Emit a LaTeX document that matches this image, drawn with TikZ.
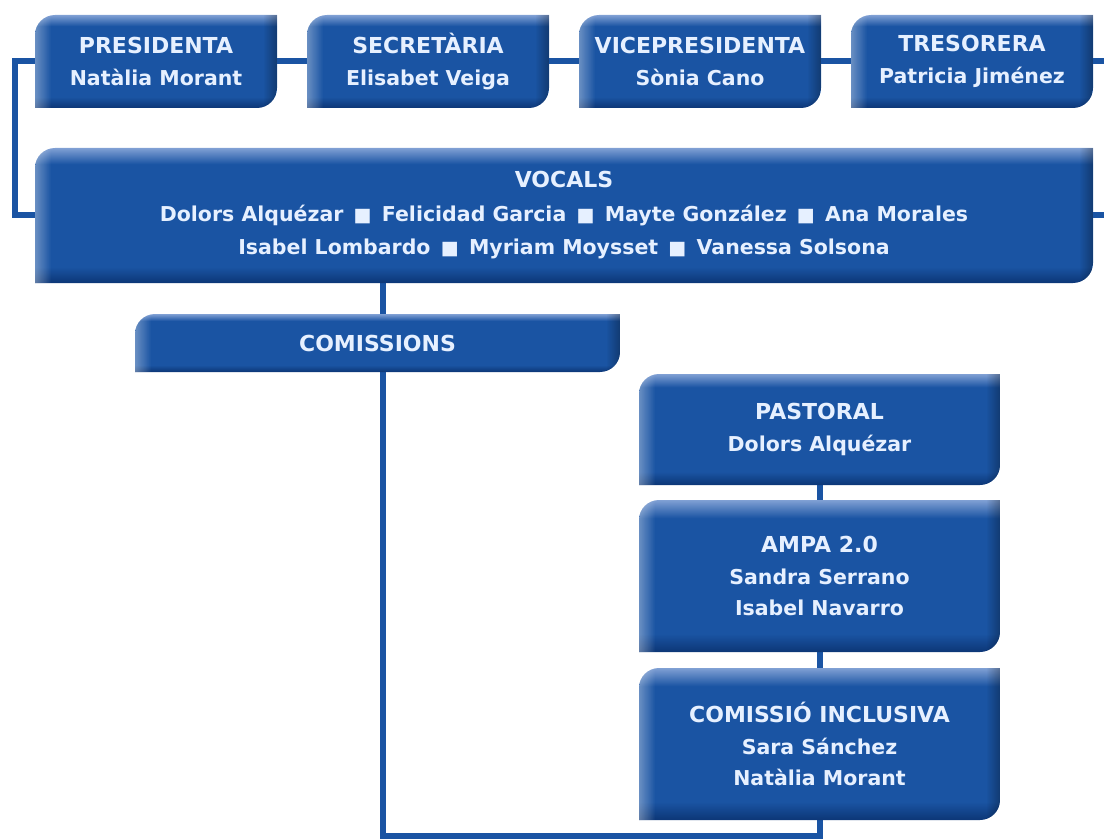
\documentclass[tikz,border=0pt]{standalone}
\usepackage{fontspec}
\setmainfont{DejaVu Sans}
\usetikzlibrary{backgrounds,fadings}

\definecolor{blaumig}{RGB}{26,84,163}
\definecolor{blauclar}{RGB}{128,160,212}
\definecolor{blaufosc}{RGB}{12,54,118}
\definecolor{lletra}{RGB}{230,240,255}
\pgfdeclareverticalshading{caixa}{100bp}{color(0bp)=(blaufosc); color(25bp)=(blaufosc);
  color(31bp)=(blaumig); color(69bp)=(blaumig); color(75bp)=(blauclar); color(100bp)=(blauclar)}
\newcommand{\quadret}{\enspace{\fontsize{19}{19}\selectfont ■}\enspace}
\newcommand{\titol}[1]{{\fontsize{22}{31}\selectfont #1}}
\newcommand{\fullacami}{(path picture bounding box.south west)
  -- ([yshift=-20pt]path picture bounding box.north west) arc[start angle=180,end angle=90,radius=20pt]
  -- (path picture bounding box.north east)
  -- ([yshift=20pt]path picture bounding box.south east) arc[start angle=0,end angle=-90,radius=20pt]
  -- cycle}

\tikzset{
  fulla/.style={text=lletra, align=center, inner sep=0pt,
    font=\fontsize{20.5}{31.5}\selectfont\bfseries,
    path picture={
      \shade[shading=caixa] \fullacami;
      \begin{scope}
        \clip \fullacami;
        \fill[white, fill opacity=.35, path fading=east]
          (path picture bounding box.south west) rectangle ([xshift=16pt]path picture bounding box.north west);
        \fill[black, fill opacity=.3, path fading=west]
          ([xshift=-14pt]path picture bounding box.south east) rectangle (path picture bounding box.north east);
      \end{scope}}},
  carrec/.style={fulla, minimum width=242pt, minimum height=93pt},
  comissio/.style={fulla, minimum width=361pt},
  linia/.style={draw=blaumig, line width=6pt}
}

\begin{document}
\begin{tikzpicture}[x=1pt,y=-1pt]
  \useasboundingbox (0,0) rectangle (1104,840);
  % junta
  \node[carrec] (presidenta) at (156,61.5) {\titol{PRESIDENTA}\\Natàlia Morant};
  \node[carrec] (secretaria) at (428,61.5) {\titol{SECRETÀRIA}\\Elisabet Veiga};
  \node[carrec] (vicepresidenta) at (700,61.5) {\titol{VICEPRESIDENTA}\\Sònia Cano};
  \node[carrec] (tresorera) at (972,61.5) {\titol{TRESORERA}\\Patricia Jiménez};
  \node[fulla, minimum width=1058pt, minimum height=135pt,
        font=\fontsize{20.5}{33.5}\selectfont\bfseries] (vocals) at (564,215.5)
    {\titol{VOCALS}\\
     Dolors Alquézar\quadret Felicidad Garcia\quadret Mayte González\quadret Ana Morales\\
     Isabel Lombardo\quadret Myriam Moysset\quadret Vanessa Solsona};
  % comissions
  \node[fulla, minimum width=485pt, minimum height=58pt] (comissions) at (377.5,343) {\titol{COMISSIONS}};
  \node[comissio, minimum height=111pt] (pastoral) at (819.5,429.5) {\titol{PASTORAL}\\Dolors Alquézar};
  \node[comissio, minimum height=152pt] (ampa) at (819.5,576) {\titol{AMPA 2.0}\\Sandra Serrano\\Isabel Navarro};
  \node[comissio, minimum height=152pt] (inclusiva) at (819.5,744) {\titol{COMISSIÓ INCLUSIVA}\\Sara Sánchez\\Natàlia Morant};

  \coordinate (esquerra) at (15,0);
  \coordinate (dreta) at (1104,0);
  \coordinate (fons) at (383,836);

  \begin{scope}[on background layer]
    \draw[linia] (presidenta.west) -| (esquerra |- vocals.west) -- (vocals.west);
    \draw[linia] (presidenta) -- (secretaria) -- (vicepresidenta) -- (tresorera);
    \draw[linia] (tresorera.east) -- (dreta |- tresorera.east);
    \draw[linia] (vocals.east) -- (dreta |- vocals.east);
    \draw[linia] (vocals.south -| fons) -- (fons) -| (inclusiva.south);
    \draw[linia] (pastoral) -- (ampa) -- (inclusiva);
  \end{scope}
\end{tikzpicture}
\end{document}
